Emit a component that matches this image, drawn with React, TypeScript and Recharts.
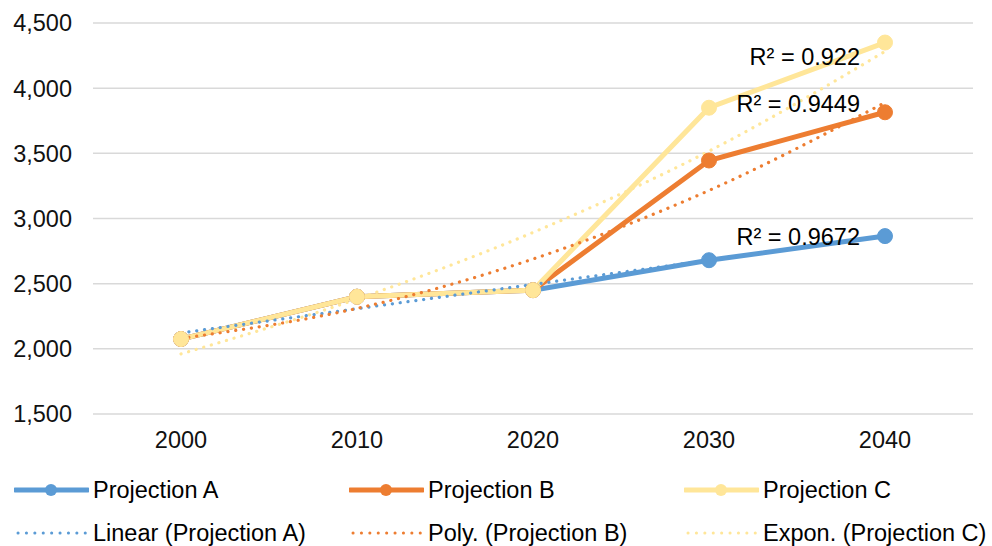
import React from 'react';
import { LineChart, Line, XAxis, YAxis, CartesianGrid, Legend, LabelList } from 'recharts';

const years = ['2000', '2010', '2020', '2030', '2040'];
const projectionA = [2075, 2400, 2450, 2680, 2865];
const projectionB = [2075, 2400, 2450, 3445, 3815];
const projectionC = [2075, 2400, 2450, 3850, 4350];
const linearA = [2122, 2308, 2494, 2680, 2866];
const polyB = [2080, 2310, 2689, 3215, 3890];
const exponC = [1961, 2382, 2893, 3517, 4282];
const rSquaredLabels = ['R² = 0.9672', 'R² = 0.9449', 'R² = 0.922'];
const yTicks = [1500, 2000, 2500, 3000, 3500, 4000, 4500];
const legendLabels = [
  'Projection A',
  'Projection B',
  'Projection C',
  'Linear (Projection A)',
  'Poly. (Projection B)',
  'Expon. (Projection C)',
];

const BLUE = '#5B9BD5';
const ORANGE = '#ED7D31';
const YELLOW = '#FFE699';
const FONT = '"Liberation Sans", Arial, sans-serif';
const FS = 23.5;

const data = years.map((year, i) => ({
  year,
  a: projectionA[i],
  b: projectionB[i],
  c: projectionC[i],
  linA: linearA[i],
  polyB: polyB[i],
  expC: exponC[i],
}));

const makeR2Label = (text: string, shiftY: number) => (props: any) => {
  const { x, y, index } = props;
  if (index !== years.length - 1) return null;
  return (
    <text
      x={x - 25}
      y={y + shiftY}
      dy="0.35em"
      textAnchor="end"
      fontSize={FS}
      fontFamily={FONT}
      fill="#000"
    >
      {text}
    </text>
  );
};

const legendColors = [BLUE, ORANGE, YELLOW, BLUE, ORANGE, YELLOW];

const LegendContent = () => (
  <div style={{ position: 'relative', width: 992, height: 88, fontFamily: FONT, fontSize: FS, color: '#000' }}>
    {legendLabels.map((label, i) => {
      const col = i % 3;
      const row = Math.floor(i / 3);
      const left = [14, 349, 684][col];
      const center = row === 0 ? 36 : 79;
      const dotted = row === 1;
      const color = legendColors[i];
      return (
        <div
          key={label}
          style={{
            position: 'absolute',
            left,
            top: center - 15,
            height: 30,
            display: 'flex',
            alignItems: 'center',
            whiteSpace: 'nowrap',
            lineHeight: '30px',
          }}
        >
          <svg width={75} height={30} style={{ display: 'block' }}>
            {dotted ? (
              <line x1={4} y1={15} x2={72} y2={15} stroke={color} strokeWidth={3} strokeDasharray="0.1 8.3" strokeLinecap="round" />
            ) : (
              <>
                <line x1={1} y1={15} x2={74} y2={15} stroke={color} strokeWidth={5} strokeLinecap="round" />
                <circle cx={37} cy={15} r={6} fill={color} />
              </>
            )}
          </svg>
          <span style={{ marginLeft: 4 }}>{label}</span>
        </div>
      );
    })}
  </div>
);

export default function App() {
  const tickStyle = { fontSize: FS, fontFamily: FONT, fill: '#111' };
  const trendProps = {
    strokeWidth: 3.2,
    strokeDasharray: '0.1 7.8',
    strokeLinecap: 'round' as const,
    dot: false,
    activeDot: false,
    isAnimationActive: false,
    type: 'monotone' as const,
  };
  return (
    <div style={{ position: 'absolute', left: 0, top: 0, width: 992, height: 546, background: '#fff' }}>
      <LineChart width={992} height={546} data={data} margin={{ top: 23, right: 19, bottom: 4, left: 0 }}>
        <CartesianGrid vertical={false} stroke="#D9D9D9" strokeWidth={1.5} />
        <XAxis
          dataKey="year"
          axisLine={false}
          tickLine={false}
          padding={{ left: 88, right: 88 }}
          tick={tickStyle}
          tickMargin={11}
          height={40}
        />
        <YAxis
          domain={[1500, 4500]}
          ticks={yTicks}
          axisLine={false}
          tickLine={false}
          width={93}
          tick={tickStyle}
          tickMargin={15}
          tickFormatter={(v: number) => v.toLocaleString('en-US')}
        />
        <Legend verticalAlign="bottom" content={<LegendContent />} />
        <Line dataKey="a" stroke={BLUE} strokeWidth={5} dot={{ r: 7.5, fill: BLUE, stroke: BLUE, strokeWidth: 1 }} activeDot={false} isAnimationActive={false} type="linear" />
        <Line dataKey="b" stroke={ORANGE} strokeWidth={5} dot={{ r: 7.5, fill: ORANGE, stroke: ORANGE, strokeWidth: 1 }} activeDot={false} isAnimationActive={false} type="linear" />
        <Line dataKey="c" stroke={YELLOW} strokeWidth={5} dot={{ r: 7.5, fill: YELLOW, stroke: YELLOW, strokeWidth: 1 }} activeDot={false} isAnimationActive={false} type="linear" />
        <Line dataKey="linA" stroke={BLUE} {...trendProps}>
          <LabelList dataKey="linA" content={makeR2Label(rSquaredLabels[0], 1)} />
        </Line>
        <Line dataKey="polyB" stroke={ORANGE} {...trendProps}>
          <LabelList dataKey="polyB" content={makeR2Label(rSquaredLabels[1], 1)} />
        </Line>
        <Line dataKey="expC" stroke={YELLOW} {...trendProps}>
          <LabelList dataKey="expC" content={makeR2Label(rSquaredLabels[2], 5)} />
        </Line>
      </LineChart>
    </div>
  );
}
